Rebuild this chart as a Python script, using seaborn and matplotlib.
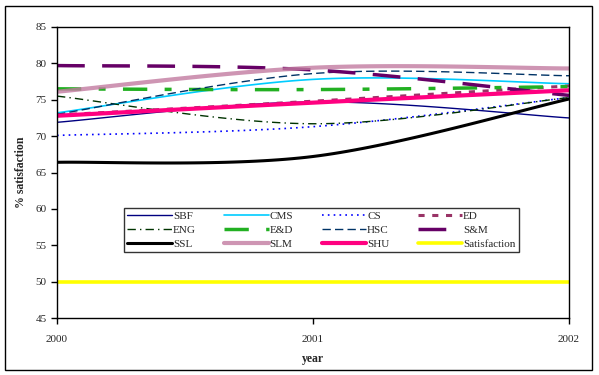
import numpy as np
import pandas as pd
import matplotlib
matplotlib.use("Agg")
import matplotlib.pyplot as plt
import seaborn as sns

years = [2000, 2001, 2002]
series_names = ["SBF", "CMS", "CS", "ED", "ENG", "E&D", "HSC", "S&M",
                "SSL", "SLM", "SHU", "Satisfaction"]
sbf = [71.9, 74.7, 72.5]
cms = [73.2, 77.8, 77.2]
cs = [70.1, 71.3, 75.3]
ed = [72.9, 74.8, 76.9]
eng = [75.5, 71.7, 75.3]
e_d = [76.5, 76.4, 76.8]
hsc = [73.0, 78.6, 78.3]
s_m = [79.7, 79.1, 75.6]
ssl = [66.4, 67.2, 75.1]
slm = [76.1, 79.4, 79.3]
shu = [72.8, 74.6, 76.3]
satisfaction = [50, 50, 50]
values = [sbf, cms, cs, ed, eng, e_d, hsc, s_m, ssl, slm, shu, satisfaction]

styles = {
    "SBF": dict(color="#000080", lw=1.0, ls="-"),
    "CMS": dict(color="#00CCFF", lw=1.2, ls="-"),
    "CS": dict(color="#0000FF", lw=1.2, ls=(0, (1, 2.5))),
    "ED": dict(color="#993366", lw=2.2, ls=(0, (2, 2.5))),
    "ENG": dict(color="#003300", lw=1.0, ls=(0, (6, 3, 1, 3))),
    "E&D": dict(color="#22B022", lw=2.5, ls=(0, (7, 5, 2, 5))),
    "HSC": dict(color="#003366", lw=1.0, ls=(0, (6, 3))),
    "S&M": dict(color="#660066", lw=2.5, ls=(0, (8, 5))),
    "SSL": dict(color="black", lw=2.2, ls="-"),
    "SLM": dict(color="#C27BA0", lw=3.0, ls="-", alpha=0.8),
    "SHU": dict(color="#FF0080", lw=3.0, ls="-"),
    "Satisfaction": dict(color="#FFFF00", lw=2.6, ls="-"),
}


def smooth(xs, ys, n=40):
    # Excel-style smoothed line (Bezier through the points)
    p = np.column_stack([xs, ys]).astype(float)
    ext = np.vstack([p[0], p, p[-1]])
    out = []
    for i in range(len(p) - 1):
        p0, p3 = p[i], p[i + 1]
        c1 = p0 + (ext[i + 2] - ext[i]) / 6
        c2 = p3 - (ext[i + 3] - ext[i + 1]) / 6
        t = np.linspace(0, 1, n)[:, None]
        seg = ((1 - t) ** 3) * p0 + 3 * ((1 - t) ** 2) * t * c1 + 3 * (1 - t) * t ** 2 * c2 + t ** 3 * p3
        out.append(seg if i == 0 else seg[1:])
    out = np.vstack(out)
    return out[:, 0], out[:, 1]


sns.set_style("white")
plt.rcParams["font.family"] = ["Liberation Serif", "DejaVu Serif"]

fig = plt.figure(figsize=(5.99, 3.75), dpi=100)
ax = fig.add_axes([57 / 599, 1 - 318 / 375, 512 / 599, 291 / 375])

for name, vals in zip(series_names, values):
    sx, sy = smooth(years, vals)
    df = pd.DataFrame({"year": sx, "value": sy})
    st = styles[name]
    sns.lineplot(data=df, x="year", y="value", ax=ax, sort=False,
                 color=st["color"], linewidth=st["lw"], linestyle=st["ls"],
                 alpha=st.get("alpha", 1.0), label=name)

ax.set_xlim(2000, 2002)
ax.set_ylim(45, 85)
ax.set_xticks(years)
ax.set_xticklabels([str(y) for y in years])
ax.set_yticks(range(45, 86, 5))
ax.tick_params(axis="both", direction="out", length=4, width=1, labelsize=8,
               bottom=True, left=True, color="black")
ax.tick_params(axis="x", pad=8)
for s in ax.spines.values():
    s.set_color("black")
    s.set_linewidth(1.0)
ax.set_xlabel("year", fontsize=8.5, fontweight="bold", labelpad=7)
ax.set_ylabel("% satisfaction", fontsize=8.5, fontweight="bold", labelpad=6)

# legend filled row by row, 4 columns
handles, labels = ax.get_legend_handles_labels()
ncol, nrow = 4, 3
order = [r * ncol + c for c in range(ncol) for r in range(nrow)]
leg = ax.legend([handles[i] for i in order], [labels[i] for i in order],
                ncol=ncol, loc="lower left", mode="expand",
                bbox_to_anchor=(0.131, 0.227, 0.771, 0.199),
                fontsize=8, frameon=True, fancybox=False, handlelength=4.0,
                handletextpad=0.1, borderpad=0.3, labelspacing=0.35,
                columnspacing=0.8, borderaxespad=0)
leg.get_frame().set_edgecolor("black")
leg.get_frame().set_linewidth(1.0)

fig.patches.append(plt.Rectangle((5 / 599, 5 / 375), 587 / 599, 364 / 375,
                                 transform=fig.transFigure, fill=False,
                                 edgecolor="black", linewidth=1.0))

fig.savefig("out.png", dpi=100)
